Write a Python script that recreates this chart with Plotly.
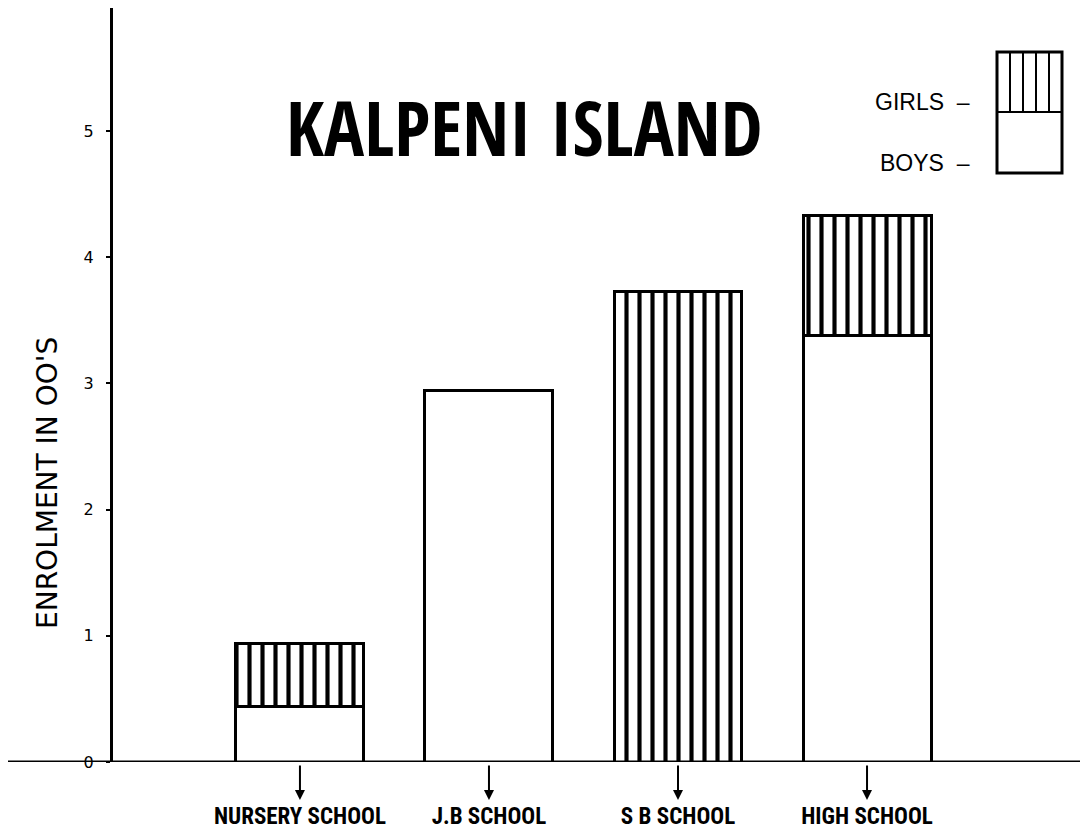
import plotly.graph_objects as go

schools = ["NURSERY SCHOOL", "J.B SCHOOL", "S B SCHOOL", "HIGH SCHOOL"]
boys = [0.44, 2.94, 0.0, 3.38]
girls = [0.50, 0.0, 3.73, 0.95]
y_ticks = [0, 1, 2, 3, 4, 5]

COND = "Roboto Condensed, Open Sans Condensed, sans-serif"

fig = go.Figure()
fig.add_trace(go.Bar(
    x=schools, y=boys, name="BOYS", width=0.677,
    marker=dict(color="white", line=dict(color="black", width=3)),
))
fig.add_trace(go.Bar(
    x=schools, y=girls, name="GIRLS", width=0.677,
    marker=dict(color="white", line=dict(color="black", width=3),
                pattern=dict(shape="|", size=13, solidity=0.32,
                             fgcolor="black", bgcolor="white", fillmode="replace")),
))

# page has an 8px body margin: figure is drawn at (8, 8)
fig.update_layout(
    barmode="stack",
    width=1080, height=830,
    margin=dict(l=105, r=0, t=0, b=76),
    paper_bgcolor="white", plot_bgcolor="white",
    showlegend=False,
    font=dict(family="DejaVu Sans", color="black"),
    xaxis=dict(
        type="category", range=[-0.989, 4.169],
        showline=False, showgrid=False, zeroline=False, ticks="",
        tickfont=dict(size=23, family=COND, weight="bold"),
        ticklabelstandoff=38,
    ),
    yaxis=dict(
        range=[0, 5.975], tickvals=y_ticks,
        showline=True, linecolor="black", linewidth=3,
        showgrid=False, zeroline=False,
        ticks="outside", ticklen=4, tickwidth=2, tickcolor="black",
        tickfont=dict(size=16, family="DejaVu Sans"),
        ticklabelstandoff=9,
    ),
)

def px(p):
    return (p - 113) / 975

def py(p):
    return (762 - p) / 754

# extended baseline (x-axis line)
fig.add_shape(type="line", xref="paper", yref="y", x0=px(0), x1=1.0, y0=0, y1=0,
              line=dict(color="black", width=3))

# y-axis title
fig.add_annotation(text="ENROLMENT IN OO'S", xref="paper", yref="paper", x=px(47), y=py(483),
                   xanchor="center", yanchor="middle",
                   textangle=-90, showarrow=False, font=dict(size=28, family="DejaVu Sans"))

# arrows below each category
for s in schools:
    fig.add_annotation(x=s, xref="x", y=py(800), yref="paper", text="", showarrow=True,
                       ax=0, ay=-36, arrowhead=2, arrowsize=1, arrowwidth=2, arrowcolor="black")

# title
fig.add_annotation(text="<b>KALPENI ISLAND</b>", xref="paper", yref="paper",
                   x=px(524), y=py(127), xanchor="center", yanchor="middle", showarrow=False,
                   font=dict(size=75, family="Open Sans Condensed, Roboto Condensed, sans-serif", weight="bold"))

# custom legend
lx0, lx1 = px(997), px(1062)
fig.add_shape(type="rect", xref="paper", yref="paper", x0=lx0, x1=lx1, y0=py(173), y1=py(52),
              line=dict(color="black", width=3), fillcolor="white")
fig.add_shape(type="line", xref="paper", yref="paper", x0=lx0, x1=lx1, y0=py(112), y1=py(112),
              line=dict(color="black", width=2))
for i in range(1, 5):
    xx = lx0 + (lx1 - lx0) * i / 5
    fig.add_shape(type="line", xref="paper", yref="paper", x0=xx, x1=xx, y0=py(112), y1=py(52),
                  line=dict(color="black", width=2))
fig.add_annotation(text="GIRLS  –", xref="paper", yref="paper", x=px(972), y=py(102),
                   xanchor="right", yanchor="middle", showarrow=False,
                   font=dict(size=23, family="Liberation Sans"))
fig.add_annotation(text="BOYS  –", xref="paper", yref="paper", x=px(972), y=py(163),
                   xanchor="right", yanchor="middle", showarrow=False,
                   font=dict(size=23, family="Liberation Sans"))

fig.write_html("out.html")
